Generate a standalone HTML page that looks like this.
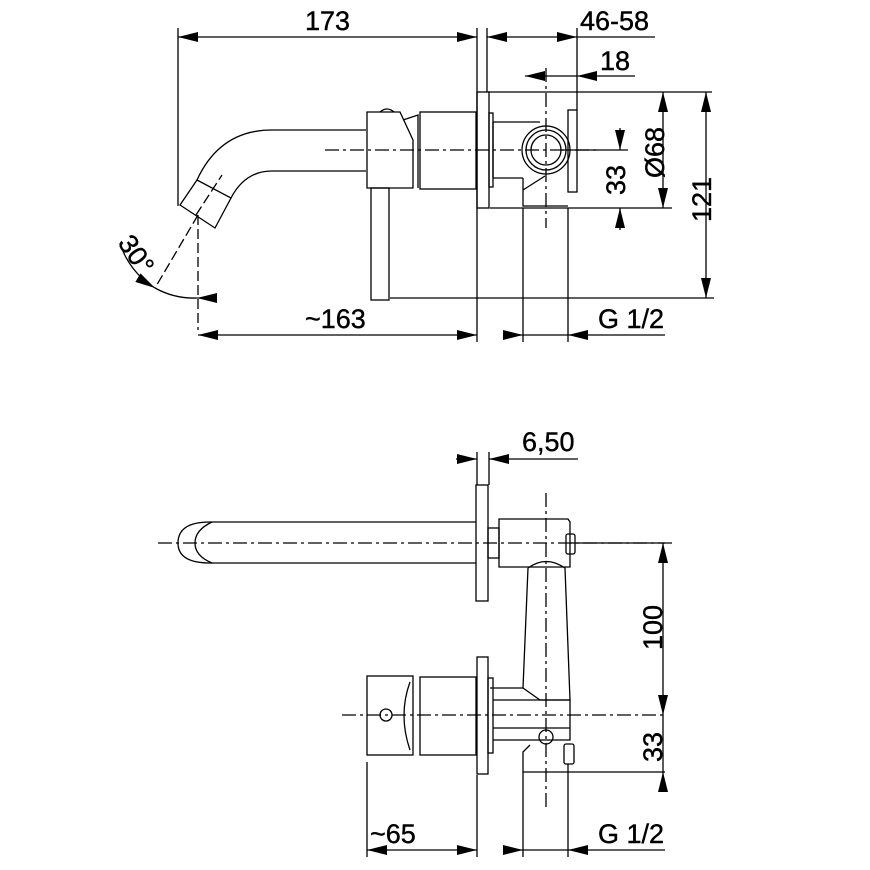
<!DOCTYPE html>
<html><head><meta charset="utf-8"><style>
html,body{margin:0;padding:0;background:#fff}
svg{display:block}
text{font-family:"Liberation Sans",Arial,sans-serif;font-size:27px;fill:#000;stroke:#000;stroke-width:0.4}
</style></head><body>
<svg width="870" height="870" viewBox="0 0 870 870" xmlns="http://www.w3.org/2000/svg">
<defs>
<marker id="a" viewBox="0 0 20 10" refX="20" refY="5" markerWidth="20" markerHeight="10" markerUnits="userSpaceOnUse" orient="auto-start-reverse"><path d="M0,0 L20,5 L0,10 z" fill="#000"/></marker>
</defs>
<g fill="none" stroke="#000" stroke-width="1.3">
<!-- TOP VIEW dims -->
<line x1="178" y1="28" x2="178" y2="206"/>
<line x1="477" y1="28" x2="477" y2="342"/>
<line x1="487" y1="28" x2="487" y2="92"/>
<line x1="577" y1="28" x2="577" y2="110"/>
<line x1="178" y1="37" x2="477" y2="37" marker-start="url(#a)" marker-end="url(#a)"/>
<line x1="487" y1="37" x2="577" y2="37" marker-start="url(#a)" marker-end="url(#a)"/>
<line x1="577" y1="37" x2="655" y2="37"/>
<line x1="525" y1="76" x2="546" y2="76" marker-start="url(#a)"/>
<line x1="546" y1="76" x2="577" y2="76"/>
<line x1="597" y1="76" x2="577" y2="76" marker-end="url(#a)"/>
<line x1="597" y1="76" x2="635" y2="76"/>
<line x1="488" y1="92" x2="712" y2="92"/>
<line x1="560" y1="150" x2="628" y2="150"/>
<line x1="490" y1="208" x2="672" y2="208"/>
<line x1="390" y1="298" x2="714" y2="298"/>
<line x1="620" y1="128" x2="620" y2="150" marker-end="url(#a)"/>
<line x1="620" y1="230" x2="620" y2="208" marker-end="url(#a)"/>
<line x1="663" y1="92" x2="663" y2="208" marker-start="url(#a)" marker-end="url(#a)"/>
<line x1="706" y1="92" x2="706" y2="298" marker-start="url(#a)" marker-end="url(#a)"/>
<line x1="198" y1="335" x2="477" y2="335" marker-start="url(#a)" marker-end="url(#a)"/>
<line x1="523" y1="208" x2="523" y2="342"/>
<line x1="568" y1="208" x2="568" y2="342"/>
<line x1="503" y1="335" x2="523" y2="335" marker-end="url(#a)"/>
<line x1="523" y1="335" x2="568" y2="335"/>
<line x1="588" y1="335" x2="568" y2="335" marker-end="url(#a)"/>
<line x1="588" y1="335" x2="665" y2="335"/>
<line x1="198" y1="215" x2="198" y2="330" stroke-dasharray="10,4"/>
<line x1="198" y1="215" x2="155" y2="288" stroke-dasharray="10,4"/>
<path d="M120,243 A80,80 0 0 0 155,288" marker-end="url(#a)"/>
<path d="M155,288 A80,80 0 0 0 197,298"/>
<line x1="217" y1="298" x2="197" y2="298" marker-end="url(#a)"/>
<!-- top body -->
<path d="M180,205 L197,180 L231,198 L215,228 Z"/>
<line x1="196" y1="215" x2="222" y2="175" stroke-dasharray="10,4"/>
<path d="M197,180 Q220,130 272,130 L366,130"/>
<path d="M231,198 Q245,171 272,171 L366,171"/>
<path d="M367,112 L400,112 L413,140 L413,188 L367,188 Z"/>
<path d="M403,120 L418,115 L418,188"/>
<path d="M380,112 Q387,106 394,112"/>
<rect x="371" y="188" width="18" height="112"/>
<rect x="420" y="112" width="56" height="77"/>
<rect x="477" y="92" width="12" height="116"/>
<rect x="489" y="113" width="4" height="74"/>
<path d="M493,122 L540,122 M493,178 L523,178 M493,122 L493,178"/>
<circle cx="546" cy="150" r="24"/>
<circle cx="546" cy="150" r="20"/>
<circle cx="546" cy="150" r="15"/>
<rect x="568" y="110" width="9" height="82"/>
<path d="M523,178 L523,206 L568,206 M523,190 L545,176"/>
<line x1="325" y1="150" x2="600" y2="150" stroke-dasharray="14,4,3,4"/>
<line x1="546" y1="68" x2="546" y2="228" stroke-dasharray="14,4,3,4"/>

<!-- BOTTOM VIEW -->
<line x1="477" y1="452" x2="477" y2="485"/>
<line x1="489" y1="452" x2="489" y2="485"/>
<line x1="456" y1="459" x2="477" y2="459" marker-end="url(#a)"/>
<line x1="510" y1="459" x2="489" y2="459" marker-end="url(#a)"/>
<line x1="510" y1="459" x2="578" y2="459"/>
<rect x="476" y="485" width="12" height="116"/>
<path d="M210,522 L476,522 M210,563 L476,563"/>
<path d="M210,522 Q178,522 178,543 Q178,563 210,563"/>
<path d="M212,522 Q195,530 195,543 Q195,556 212,563"/>
<rect x="488" y="528" width="11" height="30"/>
<path d="M499,519 L568,519 L570,522 L570,567 L499,567 Z"/>
<rect x="566" y="534" width="9" height="20" rx="2"/>
<path d="M528,568 Q546,555 565,568 L570,700 M528,568 L523,688 L490,688"/>
<path d="M523,688 L540,700 L570,700"/>
<rect x="477" y="657" width="11" height="117"/>
<rect x="488" y="678" width="5" height="75"/>
<path d="M493,700 L570,700 L570,740 L493,740 M493,728 L570,728"/>
<rect x="367" y="676" width="46" height="79"/>
<path d="M410,682 Q398,715 410,750"/>
<rect x="420" y="677" width="56" height="78"/>
<circle cx="386" cy="715" r="6"/>
<path d="M530,745 L523,752 L523,772 L665,772"/>
<ellipse cx="546" cy="737" rx="7" ry="7"/>
<rect x="564" y="744" width="10" height="20" rx="2"/>
<line x1="523" y1="772" x2="523" y2="857"/>
<line x1="568" y1="764" x2="568" y2="857"/>
<line x1="367" y1="762" x2="367" y2="857"/>
<line x1="477" y1="775" x2="477" y2="857"/>
<line x1="367" y1="850" x2="477" y2="850" marker-start="url(#a)" marker-end="url(#a)"/>
<line x1="503" y1="850" x2="523" y2="850" marker-end="url(#a)"/>
<line x1="523" y1="850" x2="568" y2="850"/>
<line x1="588" y1="850" x2="568" y2="850" marker-end="url(#a)"/>
<line x1="588" y1="850" x2="665" y2="850"/>
<line x1="570" y1="543" x2="672" y2="543"/>
<line x1="663" y1="543" x2="663" y2="715" marker-start="url(#a)" marker-end="url(#a)"/>
<line x1="663" y1="772" x2="663" y2="792" marker-start="url(#a)"/>
<line x1="663" y1="715" x2="663" y2="772"/>
<line x1="158" y1="543" x2="665" y2="543" stroke-dasharray="14,4,3,4"/>
<line x1="342" y1="715" x2="665" y2="715" stroke-dasharray="14,4,3,4"/>
<line x1="546" y1="493" x2="546" y2="808" stroke-dasharray="14,4,3,4"/>
</g>
<text x="305" y="30">173</text>
<text x="580" y="30">46-58</text>
<text x="600" y="70">18</text>
<text x="305" y="328">~163</text>
<text x="598" y="328">G 1/2</text>
<text x="522" y="451">6,50</text>
<text x="370" y="843">~65</text>
<text x="598" y="843">G 1/2</text>
<text transform="translate(625,195) rotate(-90)">33</text>
<text transform="translate(664,178) rotate(-90)">Ø68</text>
<text transform="translate(711,222) rotate(-90)">121</text>
<text transform="translate(662,650) rotate(-90)">100</text>
<text transform="translate(662,762) rotate(-90)">33</text>
<text transform="translate(117,243) rotate(55)">30°</text>
</svg>
</body></html>
